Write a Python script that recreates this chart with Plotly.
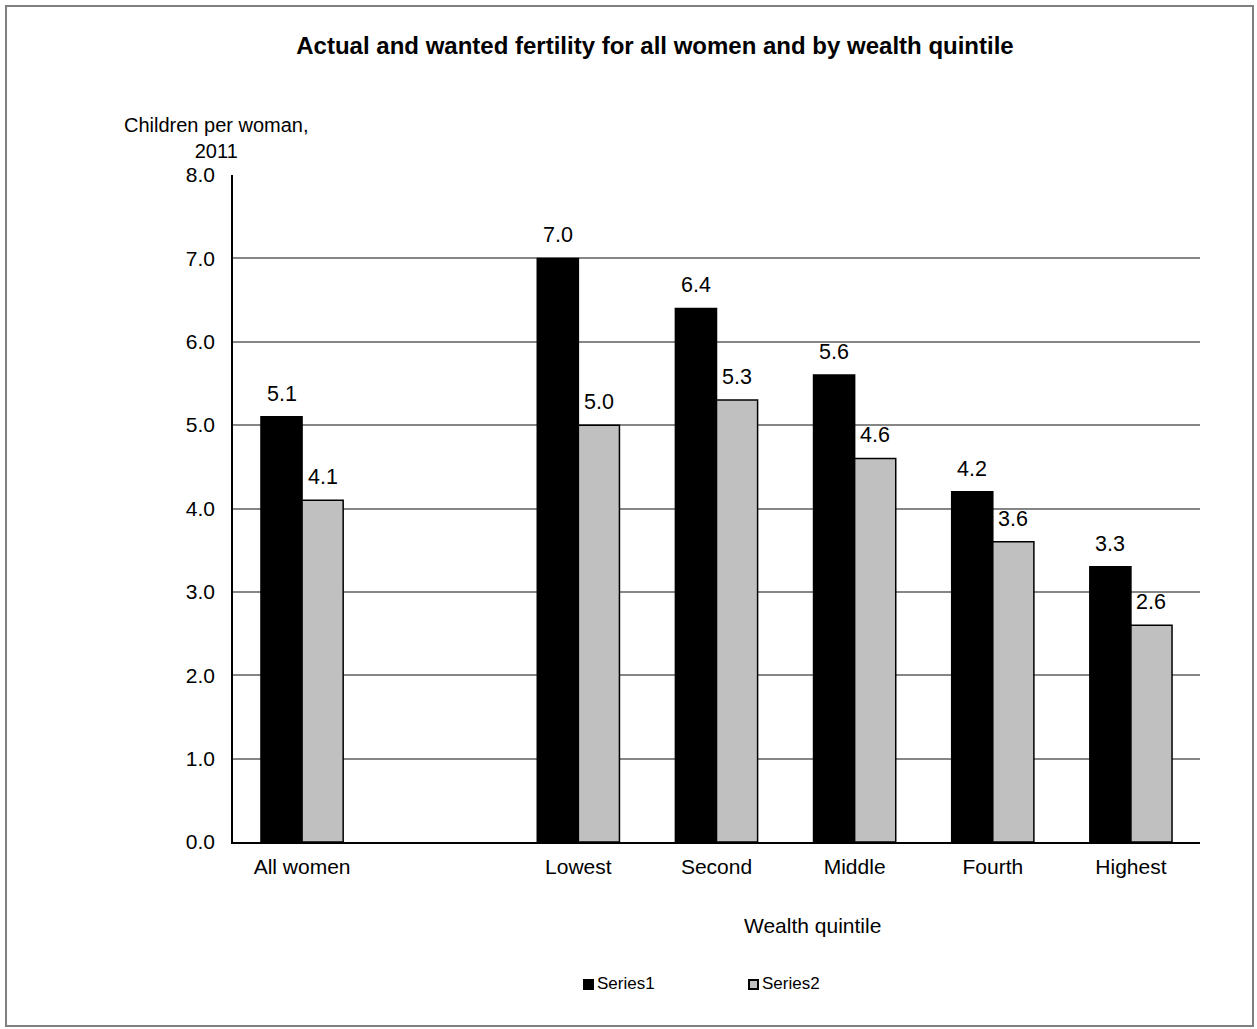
import plotly.graph_objects as go

# Categories (the blank slot keeps the gap between the total and the quintiles)
categories = ["All women", " ", "Lowest", "Second", "Middle", "Fourth", "Highest"]
series1 = [5.1, None, 7.0, 6.4, 5.6, 4.2, 3.3]
series2 = [4.1, None, 5.0, 5.3, 4.6, 3.6, 2.6]
series_names = ["Series1", "Series2"]
series_colors = ["#000000", "#C0C0C0"]
y_ticks = [0, 1, 2, 3, 4, 5, 6, 7, 8]

FONT = "Liberation Sans, Arial, sans-serif"
W, H = 1257, 1029
L, R, T, B = 233, 57, 175, 187
PW, PH = W - L - R, H - T - B


def px_x(px):
    return (px - L) / PW


def px_y(py):
    return (H - B - py) / PH


fig = go.Figure()
for name, vals, col in zip(series_names, [series1, series2], series_colors):
    fig.add_trace(go.Bar(
        x=categories, y=vals, name=name,
        marker=dict(color=col, line=dict(color="#000000", width=1.5)),
        showlegend=False,
    ))

# value labels above each bar
annotations = []
for idx, vals in enumerate([series1, series2]):
    shift = -20.5 if idx == 0 else 20.5
    for cat, v in zip(categories, vals):
        if v is None:
            continue
        annotations.append(dict(
            x=cat, y=v, xref="x", yref="y", text=f"{v:.1f}",
            showarrow=False, xshift=shift, yshift=23, yanchor="middle",
            font=dict(family=FONT, size=21.5, color="#000000"),
        ))

# y axis caption
annotations.append(dict(
    x=px_x(216), y=px_y(138), xref="paper", yref="paper",
    text="Children per woman,<br>2011", showarrow=False,
    xanchor="center", yanchor="middle", align="center",
    font=dict(family=FONT, size=20, color="#000000"),
))
# x axis caption
annotations.append(dict(
    x=px_x(812), y=px_y(925), xref="paper", yref="paper",
    text="Wealth quintile", showarrow=False,
    xanchor="center", yanchor="middle",
    font=dict(family=FONT, size=21, color="#000000"),
))

# legend drawn as swatches + labels
shapes = []
legend_x = [583, 748]
for name, col, lx in zip(series_names, series_colors, legend_x):
    shapes.append(dict(
        type="rect", xref="paper", yref="paper",
        x0=px_x(lx + 1), x1=px_x(lx + 10), y0=px_y(989), y1=px_y(980),
        fillcolor=col, line=dict(color="#000000", width=2),
    ))
    annotations.append(dict(
        x=px_x(lx + 12), y=px_y(984), xref="paper", yref="paper",
        text=name, showarrow=False, xanchor="left", yanchor="middle",
        font=dict(family=FONT, size=17, color="#000000"),
    ))

# outer frame
shapes.append(dict(
    type="rect", xref="paper", yref="paper",
    x0=px_x(6), x1=px_x(1253), y0=px_y(1026), y1=px_y(6),
    line=dict(color="#808080", width=2), fillcolor="rgba(0,0,0,0)",
    layer="below",
))

fig.update_layout(
    width=W, height=H,
    margin=dict(l=L, r=R, t=T, b=B),
    paper_bgcolor="#FFFFFF", plot_bgcolor="#FFFFFF",
    barmode="group", bargap=0.405, bargroupgap=0,
    title=dict(
        text="<b>Actual and wanted fertility for all women and by wealth quintile</b>",
        x=px_x(655), xref="paper", xanchor="center",
        y=1 - 46 / H, yref="container", yanchor="middle",
        font=dict(family=FONT, size=24, color="#000000"),
    ),
    font=dict(family=FONT, size=21, color="#000000"),
    xaxis=dict(
        type="category", categoryorder="array", categoryarray=categories,
        showline=True, linecolor="#000000", linewidth=1.5,
        ticks="", showgrid=False, tickfont=dict(family=FONT, size=21),
        ticklabelstandoff=5,
    ),
    yaxis=dict(
        range=[0, 8], tickvals=y_ticks, tickformat=".1f",
        showline=True, linecolor="#000000", linewidth=1.5,
        showgrid=True, gridcolor="#868686", gridwidth=1.5,
        ticks="", tickfont=dict(family=FONT, size=21),
        zeroline=False, ticklabelstandoff=12,
    ),
    annotations=annotations,
    shapes=shapes,
)

fig.write_html("out.html")
